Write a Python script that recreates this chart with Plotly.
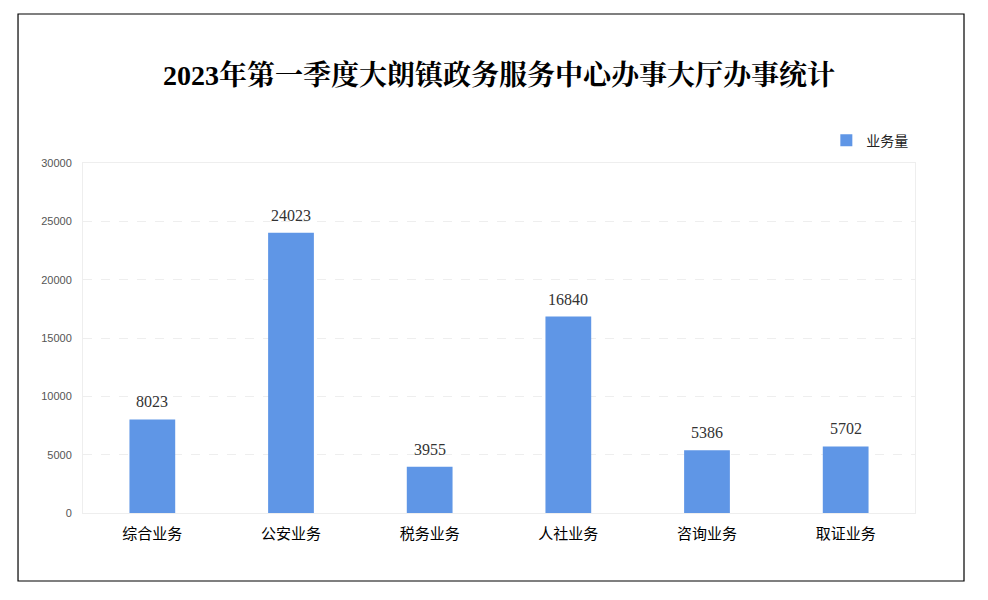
import plotly.graph_objects as go

categories = ['综合业务', '公安业务', '税务业务', '人社业务', '咨询业务', '取证业务']
volumes = [8023, 24023, 3955, 16840, 5386, 5702]
y_ticks = [0, 5000, 10000, 15000, 20000, 25000, 30000]

bar_color = '#5f96e6'

fig = go.Figure()

fig.add_trace(go.Bar(x=categories, y=volumes, name='业务量',
                     marker=dict(color=bar_color, line=dict(width=0))))

# value labels, lifted a bit more than plotly's own 'outside' text
for cat, val in zip(categories, volumes):
    fig.add_annotation(x=cat, y=val, text=str(val), showarrow=False,
                       yanchor='bottom', yshift=7,
                       font=dict(family='Liberation Serif, serif', size=16, color='#333333'))

# page frame (drawn in paper coords outside the plot area)
fig.add_shape(type='rect', xref='paper', yref='paper',
              x0=-0.0781, x1=1.0589, y0=-0.1943, y1=1.4257,
              line=dict(color='black', width=1.2), fillcolor='rgba(0,0,0,0)')

fig.update_layout(
    width=988, height=600,
    margin=dict(l=75, r=81, t=155, b=95),
    paper_bgcolor='white', plot_bgcolor='white',
    bargap=0.67,
    title=dict(text='<b>2023年第一季度大朗镇政务服务中心办事大厅办事统计</b>',
               x=0.497, xanchor='center', y=0.888, yanchor='middle',
               font=dict(family='Liberation Serif, Noto Serif CJK SC, serif', size=28, color='black')),
    showlegend=True,
    legend=dict(x=0.998, xanchor='right', y=1.064, yanchor='middle',
                font=dict(family='Noto Sans CJK SC', size=14, color='#222222'),
                itemwidth=30, bgcolor='rgba(0,0,0,0)'),
    font=dict(family='Noto Sans CJK SC'),
)

fig.update_xaxes(showline=True, linecolor='#eeeeee', linewidth=1, mirror=True,
                 ticks='', showgrid=False, ticklabelstandoff=7,
                 tickfont=dict(family='Noto Sans CJK SC', size=15, color='black'))
fig.update_yaxes(range=[0, 30000], tickvals=y_ticks, ticktext=[str(v) for v in y_ticks],
                 showline=True, linecolor='#eeeeee',
                 linewidth=1, mirror=True, gridcolor='#eeeeee', griddash='dash', zeroline=False,
                 ticks='', ticklabelstandoff=8,
                 tickfont=dict(family='Liberation Sans, Arial', size=11, color='#555555'))

fig.write_html('out.html')
